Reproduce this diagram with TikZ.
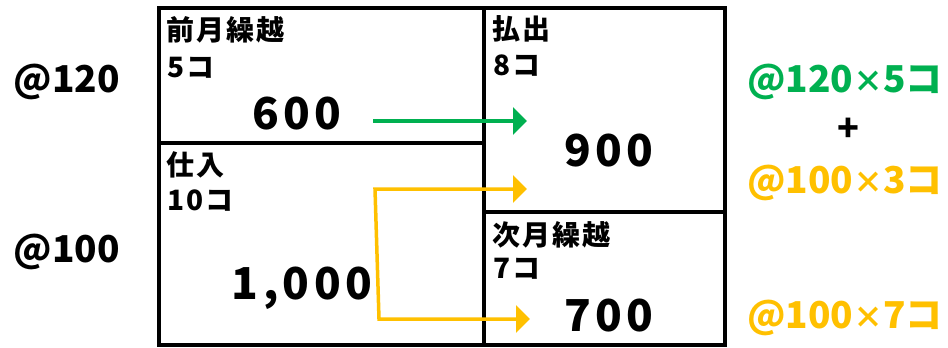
\documentclass[tikz,border=0pt]{standalone}
\usepackage{fontspec}
\setmainfont{Noto Sans CJK JP}
\usetikzlibrary{arrows.meta}
\definecolor{xgreen}{HTML}{00B050}
\definecolor{xorange}{HTML}{FFC000}
\begin{document}
\begin{tikzpicture}[x=1pt,y=-1pt,
  frame/.style={line width=3.5pt,line join=miter},
  lbl/.style={anchor=base west,inner sep=0pt,font=\fontsize{28}{30}\bfseries\selectfont\addfontfeature{LetterSpace=8}},
  big/.style={anchor=base,inner sep=0pt,font=\fontsize{44}{48}\bfseries\selectfont\addfontfeature{LetterSpace=10}},
  price/.style={anchor=base,inner sep=0pt,font=\fontsize{37}{40}\bfseries\selectfont},
  flow/.style={line width=3.5pt,-{Triangle[length=14pt,width=27pt]}},
  flow2/.style={line width=3.5pt,{Triangle[length=14pt,width=27pt]}-{Triangle[length=14pt,width=27pt]}}]
\useasboundingbox (0,0) rectangle (948,348);
% boxes
\draw[frame] (159,8) rectangle (484,345);
\draw[frame] (159,143) -- (484,143);
\draw[frame] (484,8) rectangle (725,345);
\draw[frame] (484,212) -- (725,212);
% labels
\node[lbl] (zm) at (166,40) {前月繰越};
\node[lbl] (zmn) at (167,77) {5コ};
\node[lbl] (si) at (166,175) {仕入};
\node[lbl] (sin) at (167,210) {10コ};
\node[lbl] (hd) at (492,39) {払出};
\node[lbl] (hdn) at (493,75) {8コ};
\node[lbl] (jg) at (492,245) {次月繰越};
\node[lbl] (jgn) at (493,278) {7コ};
% amounts
\node[big] (a600) at (297,129) {600};
\node[big] (a1000) at (302,299) {1,000};
\node[big] (a900) at (609,166) {900};
\node[big] (a700) at (609,331) {700};
% unit prices
\node[price] (p120) at (67,92) {@120};
\node[price] (p100) at (67,262) {@100};
\node[price,text=xgreen] (r1) at (845,92) {@120{\fontsize{30}{32}\selectfont ×}5コ};
\node[anchor=center,inner sep=0pt,font=\fontsize{36}{40}\bfseries\selectfont] (plus) at (848,130) {+};
\node[price,text=xorange] (r2) at (845,193) {@100{\fontsize{30}{32}\selectfont ×}3コ};
\node[price,text=xorange] (r3) at (845,328) {@100{\fontsize{30}{32}\selectfont ×}7コ};
% arrows
\coordinate (g0) at (373,121);
\coordinate (g1) at (527,121);
\coordinate (o0) at (527,189);
\coordinate (o1) at (375,189);
\coordinate (o2) at (379,319);
\coordinate (o3) at (530,319);
\draw[flow,xgreen] (g0) -- (g1);
\draw[flow2,xorange] (o0) -- (o1) -- (o2) -- (o3);
\end{tikzpicture}
\end{document}
